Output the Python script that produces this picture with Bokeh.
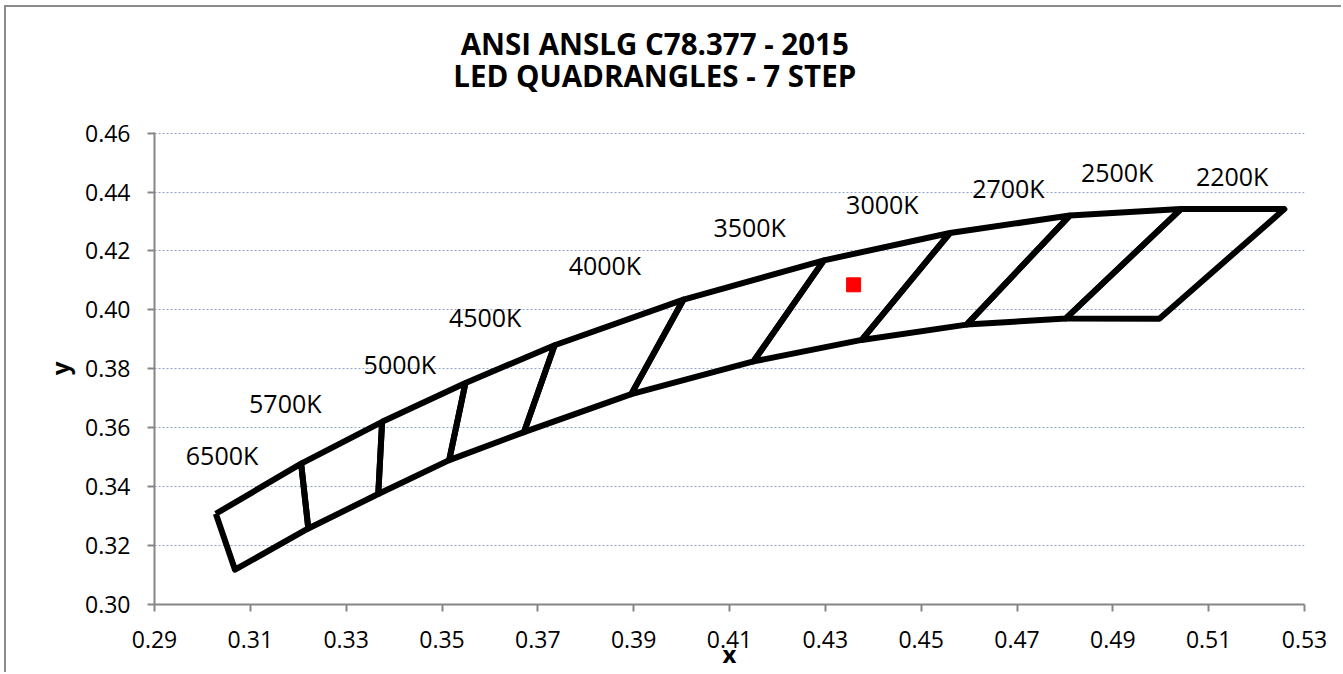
from bokeh.plotting import figure
from bokeh.models import Label, FixedTicker, NumeralTickFormatter, ColumnDataSource
from bokeh.core.properties import value
from bokeh.embed import file_html
from bokeh.resources import INLINE

# ---- data ----
cct_labels = ["6500K", "5700K", "5000K", "4500K", "4000K", "3500K", "3000K", "2700K", "2500K", "2200K"]

# upper boundary of the quadrangle strip (cool -> warm)
upper_x = [0.3028, 0.3206, 0.3375, 0.3549, 0.3735, 0.4004, 0.4297, 0.4560, 0.4810, 0.5042, 0.5258]
upper_y = [0.3308, 0.3478, 0.3620, 0.3752, 0.3880, 0.4035, 0.4168, 0.4261, 0.4320, 0.4342, 0.4342]
# lower boundary of the quadrangle strip
lower_x = [0.3068, 0.3221, 0.3367, 0.3515, 0.3671, 0.3895, 0.4150, 0.4376, 0.4595, 0.4802, 0.4997]
lower_y = [0.3118, 0.3258, 0.3375, 0.3490, 0.3585, 0.3714, 0.3825, 0.3898, 0.3950, 0.3971, 0.3970]

# data-label positions
label_x = [0.3041, 0.3173, 0.3412, 0.3590, 0.3840, 0.4142, 0.4419, 0.4682, 0.4909, 0.5149]
label_y = [0.3506, 0.3685, 0.3817, 0.3977, 0.4152, 0.4281, 0.4359, 0.4412, 0.4468, 0.4456]

# measured point
point_x = [0.4359]
point_y = [0.4085]

x_ticks = [0.29, 0.31, 0.33, 0.35, 0.37, 0.39, 0.41, 0.43, 0.45, 0.47, 0.49, 0.51, 0.53]
y_ticks = [0.30, 0.32, 0.34, 0.36, 0.38, 0.40, 0.42, 0.44, 0.46]

title_lines = ["ANSI ANSLG C78.377 - 2015", "LED QUADRANGLES - 7 STEP"]

# ---- build quadrangles ----
xs, ys = [], []
for i in range(len(cct_labels)):
    xs.append([upper_x[i], lower_x[i], lower_x[i + 1], upper_x[i + 1], upper_x[i]])
    ys.append([upper_y[i], lower_y[i], lower_y[i + 1], upper_y[i + 1], upper_y[i]])

FONT = "Open Sans"
AXIS_GRAY = "#868686"

p = figure(width=1337, height=667, x_range=(0.29, 0.53), y_range=(0.30, 0.4602),
           output_backend="svg", toolbar_location=None,
           min_border_left=148, min_border_right=39, min_border_top=125, min_border_bottom=70)
p.styles = {"position": "absolute", "left": "6px", "top": "7px",
            "box-shadow": "-2px -2px 0px 0px #8c8c8c"}
p.outline_line_color = None
p.background_fill_color = "white"
p.border_fill_color = "white"

p.multi_line(xs, ys, line_color="black", line_width=6, line_join="round")

p.scatter(point_x, point_y, marker="square", size=14, fill_color="#ff0000", line_color="#ff0000")

src = ColumnDataSource(dict(x=label_x, y=label_y, t=cct_labels))
p.text(x="x", y="y", text="t", source=src, text_align="center", text_baseline="middle",
       text_font=value(FONT), text_font_size="25px", text_color="black")

# axes
for ax in (p.xaxis[0], p.yaxis[0]):
    ax.axis_line_color = AXIS_GRAY
    ax.axis_line_width = 2
    ax.major_tick_line_color = AXIS_GRAY
    ax.major_tick_line_width = 2
    ax.major_tick_out = 7
    ax.major_tick_in = 0
    ax.minor_tick_line_color = None
    ax.major_label_text_font = FONT
    ax.major_label_text_font_size = "23px"
    ax.major_label_text_color = "black"
    ax.formatter = NumeralTickFormatter(format="0.00")
    ax.axis_label_text_font = FONT
    ax.axis_label_text_font_style = "bold"
    ax.axis_label_text_font_size = "24px"
    ax.axis_label_text_color = "black"

p.xaxis[0].ticker = FixedTicker(ticks=x_ticks)
p.yaxis[0].ticker = FixedTicker(ticks=y_ticks)
p.xaxis[0].major_label_standoff = 19
p.yaxis[0].major_label_standoff = 17

p.yaxis[0].axis_label = "y"
p.yaxis[0].axis_label_standoff = 6
p.xaxis[0].axis_label = "x"
p.xaxis[0].axis_label_standoff = -14

p.xgrid.grid_line_color = None
p.ygrid.ticker = FixedTicker(ticks=y_ticks)
p.ygrid.grid_line_color = "#8EA6C9"
p.ygrid.grid_line_width = 1
p.ygrid.grid_line_dash = "2 2"

# title lines: placed in the top panel so they are not clipped to the frame
p.add_layout(Label(x=0.3944, y=0.47958, text=title_lines[1], text_align="center",
                   text_baseline="alphabetic", text_font=FONT, text_font_style="bold",
                   text_font_size="29.5px", text_color="black"), "above")
p.add_layout(Label(x=0.3944, y=0.49033, text=title_lines[0], text_align="center",
                   text_baseline="alphabetic", text_font=FONT, text_font_style="bold",
                   text_font_size="29.5px", text_color="black"), "above")

open("out.html", "w").write(file_html(p, INLINE))
